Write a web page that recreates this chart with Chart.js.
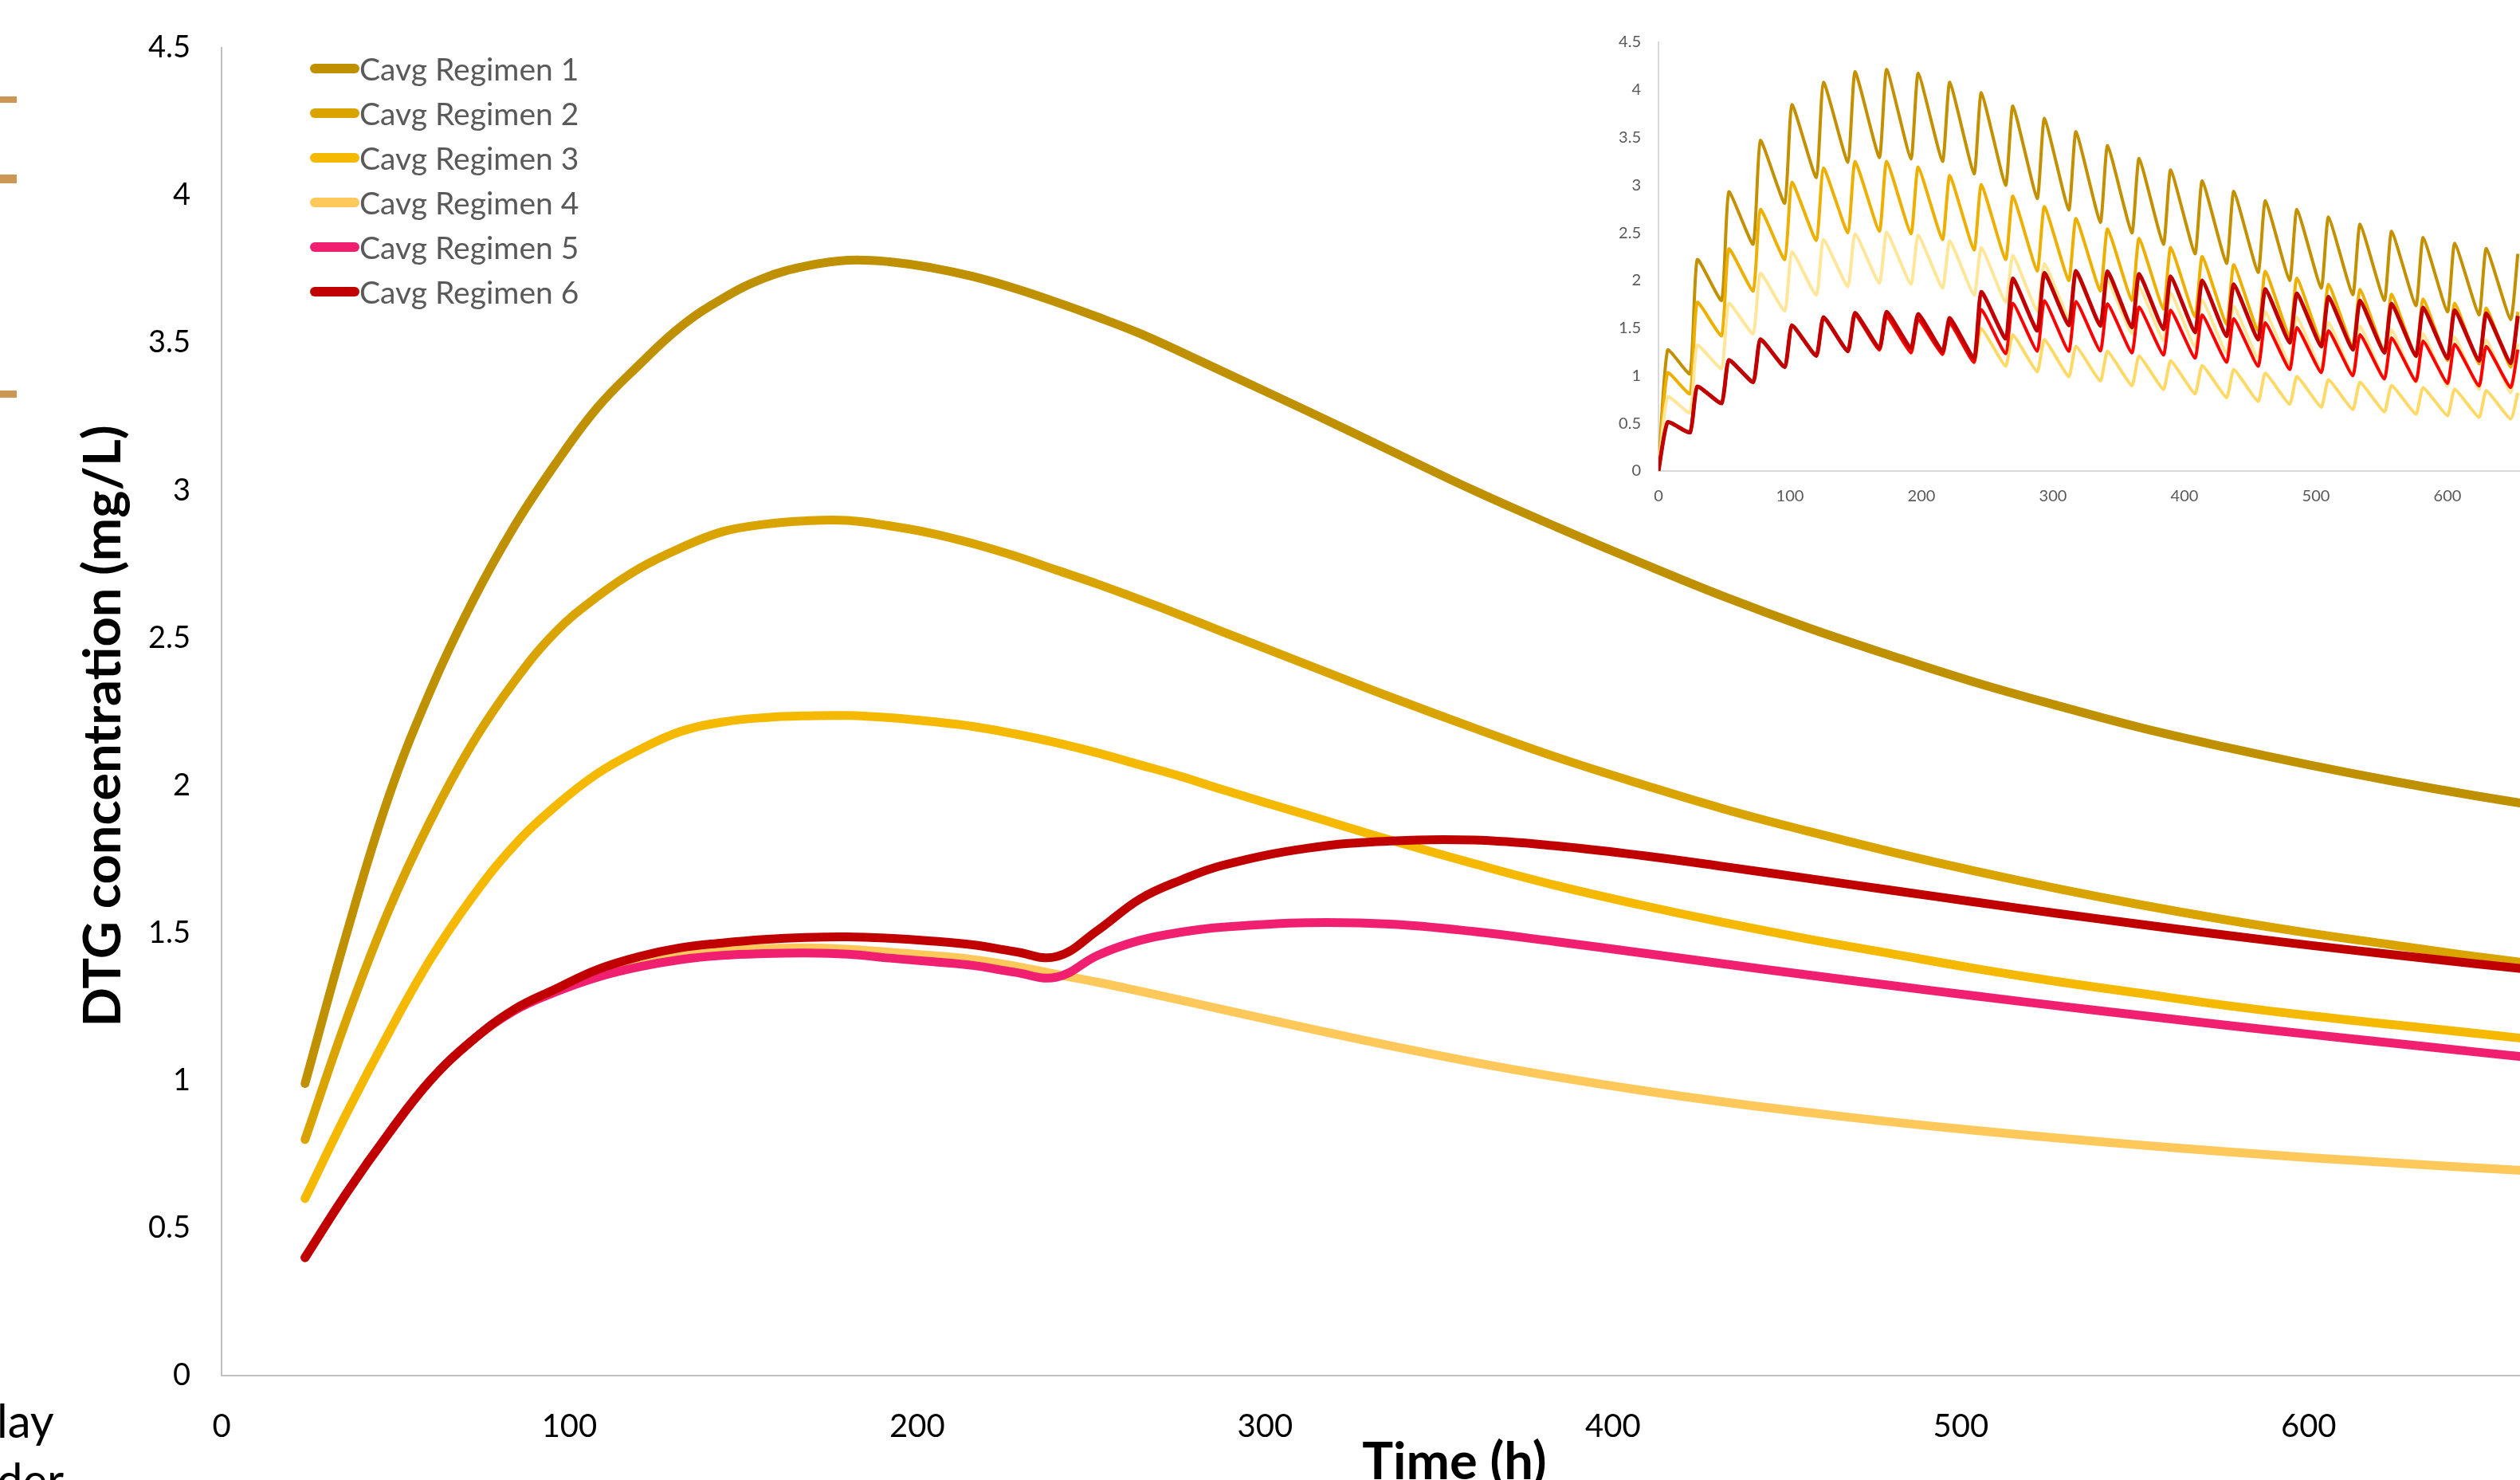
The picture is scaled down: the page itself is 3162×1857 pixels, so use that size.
<!DOCTYPE html>
<html>
<head>
<meta charset="utf-8">
<script src="https://cdn.jsdelivr.net/npm/chart.js@4.4.1/dist/chart.umd.min.js"></script>
<style>
  html, body { margin: 0; padding: 0; background: #fff; overflow: hidden; }
  body { width: 3162px; height: 1857px; position: relative; font-family: Lato, "Open Sans", sans-serif; }
  #main { position: absolute; left: 0; top: 0; }
  #inset { position: absolute; left: 1980px; top: 0; }
  #legend { position: absolute; left: 389px; top: 58px; }
  .row { display: flex; align-items: center; height: 56px; }
  .row i { display: block; width: 62px; height: 12px; border-radius: 6px; }
  .row span { font-size: 39px; line-height: 1; color: #595959; white-space: nowrap; }
  .mark { position: absolute; left: 0; width: 21px; background: #CC9655; }
  #side { position: absolute; left: -4px; top: 1745px; font-size: 58px; line-height: 74px; color: #000; }
</style>
</head>
<body>
<canvas id="main" width="3400" height="1900"></canvas>
<canvas id="inset" width="1300" height="660"></canvas>
<div id="legend"></div>
<div class="mark" style="top:121px;height:8px"></div>
<div class="mark" style="top:219px;height:11px"></div>
<div class="mark" style="top:490px;height:9px"></div>
<div id="side">lay<br>der</div>
<script>
// main chart: Cavg (mg/L) against time (h)
const timeH = [24, 36, 48, 60, 72, 84, 96, 108, 120, 132, 144, 156, 168, 180, 192, 204, 216, 228, 240, 252, 264, 276, 288,
    312, 336, 360, 384, 408, 432, 456, 480, 504, 528, 552, 576, 600, 624, 648, 672]
const cavg1 = [0.99, 1.50, 1.96, 2.32, 2.62, 2.875, 3.09, 3.28, 3.425, 3.555, 3.65, 3.72, 3.76, 3.78, 3.775, 3.755, 3.725, 3.685, 3.638, 3.587, 3.532, 3.468, 3.402,
    3.27, 3.135, 3.00, 2.875, 2.755, 2.64, 2.535, 2.44, 2.35, 2.27, 2.195, 2.13, 2.07, 2.015, 1.965, 1.92]
const cavg2 = [0.80, 1.21, 1.575, 1.88, 2.14, 2.35, 2.52, 2.64, 2.735, 2.805, 2.86, 2.885, 2.897, 2.898, 2.88, 2.855, 2.82, 2.778, 2.73, 2.682, 2.63, 2.576, 2.52,
    2.41, 2.30, 2.195, 2.095, 2.005, 1.92, 1.845, 1.775, 1.71, 1.65, 1.595, 1.545, 1.50, 1.46, 1.42, 1.385]
const cavg3 = [0.60, 0.89, 1.16, 1.41, 1.62, 1.795, 1.93, 2.04, 2.12, 2.183, 2.215, 2.23, 2.236, 2.237, 2.23, 2.217, 2.20, 2.175, 2.145, 2.11, 2.07, 2.03, 1.985,
    1.90, 1.815, 1.735, 1.66, 1.595, 1.535, 1.48, 1.43, 1.38, 1.335, 1.295, 1.255, 1.22, 1.19, 1.16, 1.13]
const cavg4 = [0.40, 0.62, 0.82, 1.00, 1.135, 1.236, 1.305, 1.36, 1.40, 1.425, 1.44, 1.447, 1.45, 1.445, 1.435, 1.424, 1.41, 1.388, 1.36, 1.333, 1.303, 1.272, 1.24,
    1.178, 1.118, 1.062, 1.012, 0.967, 0.927, 0.892, 0.86, 0.831, 0.805, 0.781, 0.759, 0.739, 0.721, 0.704, 0.688]
const cavg5 = [0.40, 0.62, 0.82, 1.00, 1.135, 1.236, 1.30, 1.35, 1.385, 1.41, 1.424, 1.43, 1.432, 1.428, 1.415, 1.403, 1.39, 1.367, 1.35, 1.425, 1.475, 1.503, 1.52,
    1.535, 1.53, 1.505, 1.47, 1.433, 1.395, 1.358, 1.322, 1.287, 1.253, 1.22, 1.188, 1.157, 1.127, 1.097, 1.068]
const cavg6 = [0.40, 0.62, 0.82, 1.00, 1.135, 1.24, 1.31, 1.376, 1.42, 1.45, 1.466, 1.478, 1.485, 1.487, 1.482, 1.473, 1.46, 1.437, 1.42, 1.51, 1.615, 1.68, 1.73,
    1.787, 1.812, 1.815, 1.795, 1.763, 1.725, 1.685, 1.645, 1.605, 1.566, 1.529, 1.493, 1.459, 1.427, 1.396, 1.366]

const regimens = ['Cavg Regimen 1', 'Cavg Regimen 2', 'Cavg Regimen 3', 'Cavg Regimen 4', 'Cavg Regimen 5', 'Cavg Regimen 6']
const mainColors = ['#BF9000', '#D9A400', '#F4B900', '#FFC85A', '#F01F70', '#C00000']
const xTicks = [0, 100, 200, 300, 400, 500, 600, 700]
const yTicks = [0, 0.5, 1, 1.5, 2, 2.5, 3, 3.5, 4, 4.5]

// inset: concentration-time profile, trough at each dose and peak after it
const doseT = [0, 24, 48, 72, 96, 120, 144, 168, 192, 216, 240, 264, 288, 312, 336, 360, 384, 408, 432, 456, 480, 504, 528, 552, 576, 600, 624, 648]
const peakT = [7, 29.5, 53.5, 77.5, 101.5, 125.5, 149.5, 173.5, 197.5, 221.5, 245.5, 269.5, 293.5, 317.5, 341.5, 365.5, 389.5, 413.5, 437.5, 461.5, 485.5, 509.5, 533.5, 557.5, 581.5, 605.5, 629.5, 653.5]
const trough1 = [0, 1.02, 1.79, 2.38, 2.81, 3.08, 3.24, 3.29, 3.275, 3.25, 3.12, 3.00, 2.86, 2.74, 2.61, 2.50, 2.38, 2.28, 2.18, 2.085, 2.00, 1.92, 1.85, 1.79, 1.735, 1.67, 1.64, 1.59]
const peak1 = [1.27, 2.22, 2.93, 3.47, 3.845, 4.08, 4.19, 4.215, 4.175, 4.08, 3.97, 3.83, 3.70, 3.56, 3.415, 3.28, 3.16, 3.045, 2.935, 2.835, 2.745, 2.665, 2.59, 2.515, 2.45, 2.39, 2.335, 2.28]
const trough2 = [0, 0.81, 1.42, 1.89, 2.22, 2.42, 2.50, 2.515, 2.49, 2.43, 2.32, 2.22, 2.10, 2.00, 1.89, 1.79, 1.70, 1.62, 1.54, 1.47, 1.41, 1.35, 1.30, 1.25, 1.20, 1.16, 1.125, 1.09]
const peak2 = [1.03, 1.77, 2.33, 2.745, 3.03, 3.18, 3.25, 3.25, 3.19, 3.10, 3.005, 2.885, 2.775, 2.65, 2.54, 2.44, 2.345, 2.25, 2.165, 2.095, 2.025, 1.96, 1.905, 1.855, 1.805, 1.76, 1.71, 1.67]
const trough3 = [0, 0.61, 1.075, 1.44, 1.68, 1.845, 1.935, 1.97, 1.96, 1.92, 1.845, 1.77, 1.68, 1.605, 1.52, 1.44, 1.37, 1.30, 1.235, 1.175, 1.12, 1.065, 1.015, 0.97, 0.93, 0.89, 0.855, 0.82]
const peak3 = [0.78, 1.32, 1.76, 2.075, 2.30, 2.43, 2.49, 2.505, 2.475, 2.415, 2.345, 2.26, 2.175, 2.085, 2.00, 1.935, 1.87, 1.795, 1.73, 1.67, 1.615, 1.56, 1.52, 1.48, 1.44, 1.405, 1.375, 1.34]
const trough4 = [0, 0.404, 0.711, 0.933, 1.092, 1.208, 1.257, 1.27, 1.24, 1.224, 1.14, 1.10, 1.04, 0.99, 0.945, 0.895, 0.855, 0.81, 0.77, 0.73, 0.70, 0.67, 0.645, 0.62, 0.597, 0.58, 0.563, 0.546]
const peak4 = [0.513, 0.887, 1.165, 1.383, 1.529, 1.615, 1.64, 1.62, 1.59, 1.555, 1.496, 1.43, 1.38, 1.31, 1.257, 1.208, 1.158, 1.109, 1.066, 1.026, 0.993, 0.96, 0.933, 0.90, 0.877, 0.86, 0.844, 0.82]
const trough5 = [0, 0.404, 0.711, 0.933, 1.092, 1.208, 1.257, 1.27, 1.24, 1.224, 1.14, 1.231, 1.257, 1.257, 1.26, 1.24, 1.218, 1.185, 1.142, 1.099, 1.066, 1.032, 0.999, 0.966, 0.943, 0.92, 0.893, 0.877]
const peak5 = [0.513, 0.887, 1.165, 1.383, 1.529, 1.615, 1.64, 1.62, 1.59, 1.555, 1.694, 1.76, 1.787, 1.78, 1.754, 1.72, 1.688, 1.638, 1.598, 1.555, 1.506, 1.473, 1.43, 1.396, 1.363, 1.33, 1.307, 1.274]
const trough6 = [0, 0.404, 0.711, 0.933, 1.092, 1.208, 1.257, 1.29, 1.29, 1.257, 1.185, 1.39, 1.473, 1.529, 1.525, 1.506, 1.489, 1.456, 1.416, 1.38, 1.347, 1.307, 1.274, 1.241, 1.208, 1.181, 1.158, 1.132]
const peak6 = [0.513, 0.887, 1.165, 1.383, 1.529, 1.615, 1.661, 1.671, 1.648, 1.605, 1.88, 2.02, 2.078, 2.10, 2.095, 2.068, 2.042, 2.00, 1.959, 1.909, 1.863, 1.827, 1.787, 1.754, 1.714, 1.688, 1.655, 1.628]
const insetColors = ['#C39000', '#EDB000', '#FFE699', '#FFD966', '#FF0000', '#C00000']
const insetWidths = [4, 4, 4, 4, 4, 5]

const cavg = [cavg1, cavg2, cavg3, cavg4, cavg5, cavg6]
const troughs = [trough1, trough2, trough3, trough4, trough5, trough6]
const peaks = [peak1, peak2, peak3, peak4, peak5, peak6]

const mainSets = regimens.map((name, i) => ({
    label: name,
    data: timeH.map((t, j) => ({x: t, y: cavg[i][j]})),
    borderColor: mainColors[i],
    borderWidth: 11,
    borderCapStyle: 'round',
    borderJoinStyle: 'round',
    pointRadius: 0,
    tension: 0.4,
    order: 5 - i
}))

const insetSets = regimens.map((name, i) => {
    const pts = []
    for (let k = 0; k < doseT.length; k++) {
        pts.push({x: doseT[k], y: troughs[i][k]})
        pts.push({x: peakT[k], y: peaks[i][k]})
    }
    return {
        label: name,
        data: pts,
        borderColor: insetColors[i],
        borderWidth: insetWidths[i],
        borderJoinStyle: 'round',
        pointRadius: 0,
        tension: 0.15,
        order: 5 - i
    }
})

const axisTitles = {
    id: 'axisTitles',
    afterDraw(chart) {
        const c = chart.ctx
        c.save()
        c.fillStyle = '#000'
        c.font = 'bold 65px Lato'
        c.textAlign = 'center'
        c.textBaseline = 'alphabetic'
        c.fillText('Time (h)', 1825, 1856)
        c.translate(151, 911)
        c.rotate(-Math.PI / 2)
        c.fillText('DTG concentration (mg/L)', 0, 0)
        c.restore()
    }
}

const mainChart = new Chart(document.getElementById('main'), {
    type: 'line',
    data: {datasets: mainSets},
    options: {
        responsive: false,
        animation: false,
        devicePixelRatio: 1,
        layout: {padding: {left: 0, top: 60, right: 59, bottom: 0}},
        plugins: {legend: {display: false}, tooltip: {enabled: false}},
        scales: {
            x: {
                type: 'linear', min: 0, max: 700,
                grid: {display: false},
                border: {color: '#BFBFBF', width: 2},
                afterBuildTicks: s => { s.ticks = xTicks.map(v => ({value: v})) },
                ticks: {color: '#000', font: {family: 'Lato', size: 40}, padding: 32, maxRotation: 0, autoSkip: false},
                afterFit: s => { s.height = 174 }
            },
            y: {
                type: 'linear', min: 0, max: 4.5,
                grid: {display: false},
                border: {color: '#BFBFBF', width: 2},
                afterBuildTicks: s => { s.ticks = yTicks.map(v => ({value: v})) },
                ticks: {color: '#000', font: {family: 'Lato', size: 38}, padding: 31, callback: v => String(v)},
                afterFit: s => { s.width = 278 }
            }
        }
    },
    plugins: [axisTitles]
})

const insetChart = new Chart(document.getElementById('inset'), {
    type: 'line',
    data: {datasets: insetSets},
    options: {
        responsive: false,
        animation: false,
        devicePixelRatio: 1,
        layout: {padding: {left: 0, top: 53, right: 44, bottom: 0}},
        plugins: {legend: {display: false}, tooltip: {enabled: false}},
        scales: {
            x: {
                type: 'linear', min: 0, max: 700,
                grid: {display: false},
                border: {color: '#D9D9D9', width: 2},
                afterBuildTicks: s => { s.ticks = xTicks.map(v => ({value: v})) },
                ticks: {color: '#595959', font: {family: 'Lato', size: 20}, padding: 12, maxRotation: 0, autoSkip: false},
                afterFit: s => { s.height = 69 }
            },
            y: {
                type: 'linear', min: 0, max: 4.5,
                grid: {display: false},
                border: {color: '#D9D9D9', width: 2},
                afterBuildTicks: s => { s.ticks = yTicks.map(v => ({value: v})) },
                ticks: {color: '#595959', font: {family: 'Lato', size: 20}, padding: 14, callback: v => String(v)},
                afterFit: s => { s.width = 101 }
            }
        }
    }
})

const legendBox = document.getElementById('legend')
regimens.forEach((name, i) => {
    const row = document.createElement('div')
    row.className = 'row'
    row.innerHTML = '<i style="background:' + mainColors[i] + '"></i><span>' + name + '</span>'
    legendBox.appendChild(row)
})
</script>
</body>
</html>
